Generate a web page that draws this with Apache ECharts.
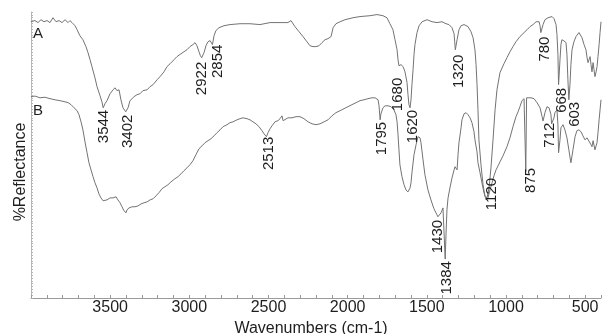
<!DOCTYPE html>
<html>
<head>
<meta charset="utf-8">
<script src="https://cdn.jsdelivr.net/npm/echarts@6/dist/echarts.min.js"></script>
<style>
  html, body { margin: 0; padding: 0; background: #fff; }
  #chart { width: 603px; height: 334px; }
</style>
</head>
<body>
<div id="chart"></div>
<script>
// FTIR spectra: [wavenumber (cm-1), %Reflectance]
const spectrumA = [
  [4000,96.6],[3975,97.0],[3956,96.3],[3937,97.3],[3918,96.6],[3899,97.0],[3880,96.3],[3861,98.0],[3842,96.6],[3823,97.0],
  [3804,96.3],[3785,97.3],[3766,96.3],[3754,97.0],[3741,96.3],[3722,95.2],[3709,93.8],[3691,91.7],[3672,90.3],[3653,87.9],
  [3640,85.8],[3627,83.3],[3615,80.9],[3596,77.0],[3583,73.9],[3564,70.7],[3552,68.6],[3544,66.5],[3533,67.9],[3520,69.0],
  [3501,71.4],[3482,72.8],[3469,73.5],[3457,72.5],[3444,72.8],[3432,69.3],[3419,66.5],[3402,65.1],[3387,66.5],[3375,69.0],
  [3362,69.7],[3349,70.4],[3330,71.1],[3312,71.4],[3293,72.5],[3267,72.8],[3248,73.9],[3229,74.6],[3204,76.3],[3185,77.4],
  [3160,79.1],[3141,80.9],[3122,81.9],[3097,83.3],[3078,84.4],[3053,85.4],[3034,86.1],[3015,86.8],[2996,87.9],[2977,88.6],
  [2964,89.3],[2952,88.2],[2939,86.1],[2930,84.7],[2922,84.0],[2907,85.8],[2895,88.2],[2882,89.6],[2869,90.0],[2854,88.6],
  [2844,91.7],[2832,93.5],[2813,94.5],[2781,95.2],[2743,95.6],[2680,95.9],[2617,95.9],[2554,95.6],[2490,96.3],[2427,96.3],
  [2377,96.3],[2358,97.0],[2346,97.0],[2333,94.9],[2307,93.1],[2282,91.4],[2257,89.6],[2238,88.2],[2219,87.9],[2200,87.9],
  [2181,88.2],[2162,89.3],[2143,90.3],[2124,90.7],[2105,91.4],[2092,94.5],[2074,95.9],[2048,96.6],[2017,97.3],[1966,98.0],
  [1922,98.4],[1859,98.7],[1815,99.1],[1777,98.7],[1752,98.0],[1733,95.9],[1714,93.8],[1701,90.3],[1688,86.8],[1682,83.3],
  [1676,81.2],[1663,81.6],[1650,80.9],[1638,79.1],[1625,75.3],[1619,71.1],[1613,67.6],[1606,66.5],[1600,69.3],[1594,74.6],
  [1587,79.8],[1581,85.1],[1575,88.6],[1562,92.8],[1549,95.2],[1530,96.6],[1499,97.3],[1467,96.6],[1436,96.3],[1404,96.6],
  [1379,95.9],[1360,95.6],[1341,94.5],[1328,92.4],[1324,89.6],[1320,86.8],[1309,90.3],[1297,93.8],[1284,95.2],[1265,95.6],
  [1240,94.9],[1221,93.1],[1208,91.0],[1196,86.8],[1189,81.6],[1183,74.6],[1177,65.8],[1171,55.3],[1158,46.6],[1145,39.6],
  [1133,35.7],[1120,35.0],[1107,38.5],[1095,45.5],[1082,55.3],[1069,65.8],[1057,72.8],[1038,78.8],[1013,81.9],[994,84.0],
  [975,86.1],[956,87.9],[937,89.6],[912,91.4],[886,92.8],[867,93.8],[848,94.9],[829,95.6],[810,96.6],[791,96.6],
  [785,95.2],[780,92.8],[766,95.6],[754,97.3],[735,98.0],[709,98.4],[697,97.7],[684,95.6],[678,92.1],[672,85.1],
  [668,74.6],[659,83.3],[653,88.6],[647,90.3],[634,89.9],[621,89.3],[615,85.1],[609,76.3],[603,69.3],[596,74.6],
  [590,81.6],[583,86.8],[571,89.6],[558,91.4],[539,92.8],[520,91.0],[507,88.6],[495,86.8],[488,84.0],[482,82.3],
  [476,83.3],[469,84.4],[463,81.6],[457,79.1],[450,82.3],[444,79.8],[438,77.4],[431,79.1],[425,80.9],[419,84.4],
  [412,88.6],[406,92.8],[400,96.6]
];

const spectrumB = [
  [4000,70.4],[3975,70.6],[3943,70.0],[3912,70.2],[3880,69.7],[3848,69.3],[3817,69.0],[3785,68.6],[3766,68.3],[3747,67.6],
  [3728,66.5],[3709,65.5],[3697,64.1],[3684,61.6],[3672,58.8],[3659,54.6],[3646,50.8],[3634,47.3],[3621,44.8],[3608,42.4],
  [3596,40.3],[3583,38.5],[3571,36.4],[3558,35.0],[3545,34.0],[3533,33.6],[3520,34.3],[3501,35.0],[3482,35.0],[3463,35.4],
  [3451,34.3],[3438,33.3],[3425,31.9],[3413,30.5],[3400,29.8],[3394,30.8],[3381,31.5],[3362,31.9],[3343,31.9],[3324,32.2],
  [3305,32.9],[3286,33.3],[3267,33.6],[3248,34.3],[3229,34.7],[3211,35.7],[3192,36.8],[3173,38.2],[3154,38.9],[3135,39.6],
  [3116,40.6],[3091,41.7],[3072,42.4],[3053,43.4],[3034,44.5],[3015,45.5],[2996,46.6],[2977,48.0],[2958,50.1],[2939,52.2],
  [2920,53.2],[2901,54.3],[2882,55.0],[2863,55.7],[2844,56.7],[2825,57.8],[2806,58.8],[2787,59.9],[2762,60.6],[2743,61.3],
  [2724,61.6],[2699,62.3],[2680,62.7],[2661,63.0],[2636,62.7],[2617,62.3],[2598,61.6],[2579,60.9],[2560,59.9],[2541,58.5],
  [2528,57.4],[2513,56.4],[2503,57.8],[2490,59.2],[2478,60.2],[2459,61.6],[2440,62.0],[2427,62.7],[2415,63.7],[2408,62.0],
  [2396,62.3],[2377,63.0],[2352,63.0],[2326,63.4],[2301,63.4],[2276,62.7],[2250,61.6],[2225,60.9],[2200,60.6],[2175,60.9],
  [2149,61.6],[2124,62.3],[2099,63.7],[2074,64.8],[2048,65.5],[2023,66.2],[1998,66.9],[1973,67.6],[1947,68.3],[1922,69.0],
  [1897,69.3],[1872,69.7],[1846,70.0],[1827,70.0],[1808,69.3],[1802,67.2],[1795,62.3],[1790,64.4],[1777,66.5],[1764,67.2],
  [1745,67.2],[1726,66.9],[1708,65.8],[1695,64.1],[1688,61.6],[1682,57.1],[1676,51.8],[1670,46.6],[1657,42.4],[1644,39.6],
  [1632,37.8],[1619,37.1],[1606,38.5],[1600,40.3],[1594,43.8],[1581,50.1],[1568,53.6],[1556,56.4],[1543,56.0],[1537,54.3],
  [1524,48.3],[1512,43.1],[1493,37.8],[1474,34.3],[1455,31.2],[1436,29.1],[1430,28.4],[1410,29.8],[1398,31.5],[1390,31.9],
  [1384,13.6],[1379,22.1],[1373,30.8],[1366,35.0],[1354,38.5],[1341,42.0],[1328,44.8],[1322,45.9],[1309,44.8],[1303,50.1],
  [1297,54.3],[1284,59.5],[1278,62.3],[1265,64.4],[1252,64.8],[1240,64.1],[1227,63.0],[1215,61.3],[1202,58.1],[1196,55.3],
  [1183,51.1],[1177,47.3],[1164,43.8],[1152,40.3],[1139,36.8],[1126,34.3],[1114,35.0],[1101,37.8],[1088,40.3],[1076,42.7],
  [1063,44.8],[1050,46.2],[1038,47.6],[1019,49.7],[994,52.9],[975,56.0],[956,59.9],[937,63.4],[924,65.1],[912,66.9],
  [899,69.0],[886,69.7],[880,70.0],[875,44.1],[870,70.0],[861,70.0],[842,70.0],[823,69.7],[804,68.3],[785,66.5],
  [772,63.4],[766,61.9],[754,64.8],[741,66.9],[728,66.5],[716,64.1],[712,60.9],[697,63.0],[691,64.8],[678,65.8],
  [672,60.6],[668,50.8],[659,55.3],[653,59.5],[640,60.6],[628,58.8],[615,56.0],[603,51.8],[590,47.3],[577,51.8],
  [564,56.4],[552,58.5],[539,58.8],[526,58.1],[514,56.7],[501,55.3],[488,56.0],[476,56.4],[463,53.6],[457,52.9],
  [450,55.0],[438,51.8],[431,53.2],[425,54.3],[419,57.8],[412,62.3],[406,65.8],[400,69.3]
];

// Band assignments (cm-1) and the reflectance level where each tag starts
const bandLabels = ['3544','3402','2922','2854','2513','1795','1680','1620','1320','1430','1384','1120','875','780','712','668','603'];
const bandLevels = [65.8, 64.1, 82.6, 88.6, 56.4, 61.6, 77.0, 65.8, 85.1, 27.3, 12.9, 42.0, 45.5, 91.4, 61.3, 73.5, 68.6];

// Axis tick labels shown along the wavenumber axis
const xTickLabels = [3500, 3000, 2500, 2000, 1500, 1000, 500];

const seriesNames = ['A', 'B'];

// Small horizontal nudges (px) so tags sit beside their bands
const tagNudge = { '3544': 1, '3402': 2, '2854': 5, '2513': 2, '1795': 2, '1620': 5, '1320': 4,
                   '1384': 2, '1120': 5, '875': 5, '780': 4, '712': -2, '668': 3, '603': 6 };

const FONT = '"Liberation Sans", Arial, Helvetica, sans-serif';
const TEXT = '#1e1e1e';
const LINE = '#737373';

const chart = echarts.init(document.getElementById('chart'), null, { renderer: 'canvas' });

chart.setOption({
  animation: false,
  backgroundColor: '#ffffff',
  grid: { left: 31, right: 2, top: 12, bottom: 36, containLabel: false, outerBoundsMode: 'none' },
  xAxis: {
    type: 'value',
    min: 400,
    max: 4000,
    interval: 100,
    inverse: true,
    name: 'Wavenumbers (cm-1)',
    nameLocation: 'middle',
    nameGap: 15,
    nameTextStyle: { color: TEXT, fontSize: 16, fontFamily: FONT, padding: [0, 10, 0, 0] },
    axisLine: { show: true, lineStyle: { color: '#9a9a9a', width: 1 } },
    axisTick: { show: true, inside: true, length: 3, lineStyle: { color: '#9a9a9a' } },
    axisLabel: {
      color: TEXT, fontSize: 16, fontFamily: FONT, margin: 2,
      showMinLabel: true, showMaxLabel: true,
      formatter: v => (xTickLabels.indexOf(v) >= 0 ? String(v) : '')
    },
    splitLine: { show: false }
  },
  yAxis: {
    type: 'value',
    min: 0,
    max: 100,
    interval: 1,
    axisLine: { show: true, lineStyle: { color: '#b5b5b5', width: 1 } },
    axisTick: { show: true, inside: true, length: 2, lineStyle: { color: '#b5b5b5' } },
    axisLabel: { show: false },
    splitLine: { show: false }
  },
  graphic: [
    { type: 'text', x: 21, y: 172, rotation: Math.PI / 2,
      style: { text: '%Reflectance', fill: TEXT, font: '16px ' + FONT, align: 'center', verticalAlign: 'middle' } },
    { type: 'text', left: 33, top: 26,
      style: { text: seriesNames[0], fill: TEXT, font: '15px ' + FONT } },
    { type: 'text', left: 33, top: 103,
      style: { text: seriesNames[1], fill: TEXT, font: '15px ' + FONT } }
  ],
  series: [
    {
      name: seriesNames[0], type: 'line', data: spectrumA, showSymbol: false, smooth: false,
      lineStyle: { color: LINE, width: 1 }, silent: true
    },
    {
      name: seriesNames[1], type: 'line', data: spectrumB, showSymbol: false, smooth: false,
      lineStyle: { color: LINE, width: 1 }, silent: true
    },
    {
      name: 'bands', type: 'custom', coordinateSystem: 'cartesian2d', silent: true, z: 5,
      data: bandLabels.map((t, i) => [Number(t), bandLevels[i]]),
      renderItem: (params, api) => {
        const p = api.coord([api.value(0), api.value(1)]);
        const t = bandLabels[params.dataIndex];
        return {
          type: 'text',
          x: p[0] + (tagNudge[t] || 0),
          y: p[1],
          rotation: Math.PI / 2,
          style: { text: t, fill: TEXT, font: '15px ' + FONT, align: 'right', verticalAlign: 'middle' }
        };
      }
    }
  ]
});
</script>
</body>
</html>
